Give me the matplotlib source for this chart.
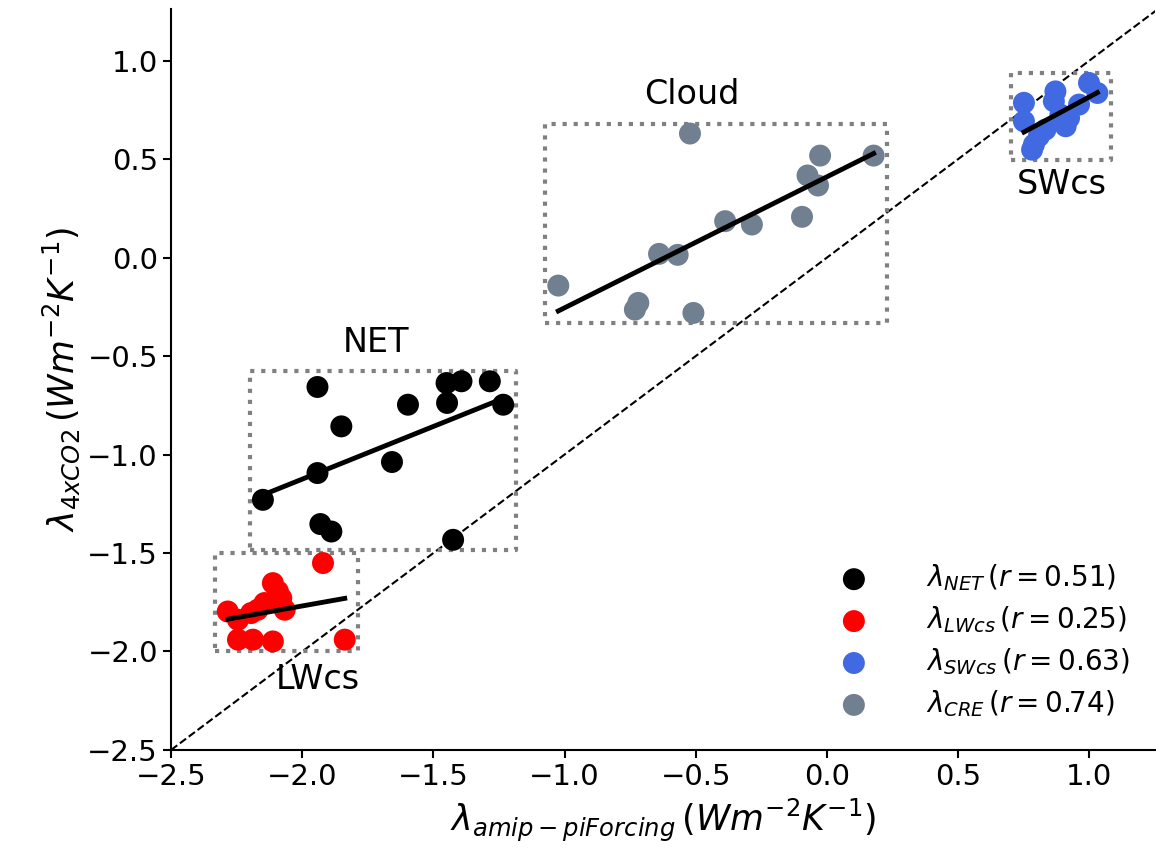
import numpy as np
from matplotlib import pyplot as plt

# feedback parameters (W m-2 K-1)
net_x = [-1.942, -1.851, -1.597, -1.450, -1.393, -1.285, -1.448, -1.234,
         -1.658, -1.942, -2.150, -1.931, -1.889, -1.425]
net_y = [-0.657, -0.857, -0.747, -0.637, -0.628, -0.628, -0.738, -0.747,
         -1.038, -1.094, -1.230, -1.353, -1.391, -1.433]

lw_x = [-1.921, -2.112, -2.080, -2.144, -2.067, -2.284, -2.195, -2.245,
        -2.245, -2.188, -2.112, -1.838, -2.093, -2.170]
lw_y = [-1.551, -1.653, -1.729, -1.754, -1.788, -1.797, -1.805, -1.839,
        -1.940, -1.940, -1.949, -1.940, -1.694, -1.788]

sw_x = [0.751, 0.751, 0.789, 0.782, 0.871, 0.865, 0.910, 0.833,
        0.999, 1.031, 0.961, 0.923, 0.808, 0.890]
sw_y = [0.786, 0.692, 0.574, 0.548, 0.844, 0.794, 0.667, 0.650,
        0.887, 0.836, 0.777, 0.709, 0.616, 0.726]

cre_x = [-0.522, -0.026, 0.178, -0.074, -0.034, -0.095, -0.388, -0.286,
         -0.640, -0.569, -1.024, -0.719, -0.732, -0.509]
cre_y = [0.630, 0.518, 0.518, 0.417, 0.366, 0.207, 0.185, 0.168,
         0.019, 0.014, -0.142, -0.230, -0.264, -0.281]

groups = [
    (net_x, net_y, "black", r"$\lambda_{NET}\,(r=0.51)$", "NET"),
    (lw_x, lw_y, "red", r"$\lambda_{LWcs}\,(r=0.25)$", "LWcs"),
    (sw_x, sw_y, "royalblue", r"$\lambda_{SWcs}\,(r=0.63)$", "SWcs"),
    (cre_x, cre_y, "slategray", r"$\lambda_{CRE}\,(r=0.74)$", "Cloud"),
]
text_pos = {"NET": (-1.718, -0.432), "LWcs": (-1.939, -2.143),
            "SWcs": (0.897, 0.371), "Cloud": (-0.515, 0.828)}

fig = plt.figure(figsize=(11.56, 8.61), dpi=100)
ax = fig.add_axes([0.148, 0.129, 0.851, 0.86])

pad = 0.05
for x, y, c, lab, name in groups:
    x = np.array(x)
    y = np.array(y)
    ax.scatter(x, y, s=250, color=c, label=lab, zorder=3, edgecolors="none")
    p = np.polyfit(x, y, 1)
    xs = np.array([x.min(), x.max()])
    ax.plot(xs, np.polyval(p, xs), color="black", lw=3.5, zorder=4)
    x0, x1 = x.min() - pad, x.max() + pad
    y0, y1 = y.min() - pad, y.max() + pad
    ax.plot([x0, x1, x1, x0, x0], [y0, y0, y1, y1, y0], ":", color="gray",
            lw=3, zorder=2)
    ax.text(*text_pos[name], name, fontsize=24, ha="center", va="center")

ax.plot([-2.5, 1.3], [-2.5, 1.3], "--", color="black", lw=1.5, zorder=1)

ax.set_xlim(-2.5, 1.25)
ax.set_ylim(-2.5, 1.26)
ax.set_xticks(np.arange(-2.5, 1.01, 0.5))
ax.set_yticks(np.arange(-2.5, 1.01, 0.5))
ax.tick_params(labelsize=21, width=1.5, length=6)
for s in ["top", "right"]:
    ax.spines[s].set_visible(False)
for s in ["left", "bottom"]:
    ax.spines[s].set_linewidth(1.5)

ax.set_xlabel(r"$\lambda_{amip-piForcing}\,(Wm^{-2}K^{-1})$", fontsize=25)
ax.set_ylabel(r"$\lambda_{4xCO2}\,(Wm^{-2}K^{-1})$", fontsize=25)

ax.legend(loc="lower right", frameon=False, fontsize=20,
          bbox_to_anchor=(1.0, 0.008), handletextpad=1.6, labelspacing=0.4)

fig.savefig("out.png")
